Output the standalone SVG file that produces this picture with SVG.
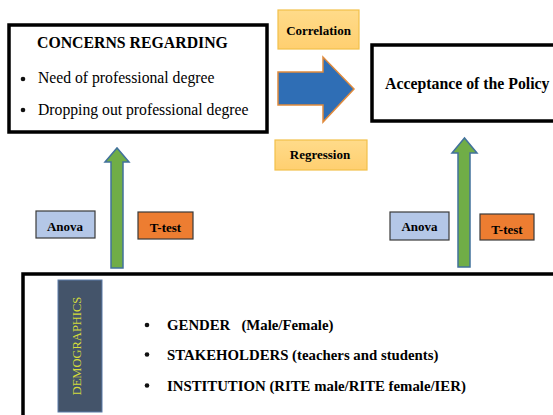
<svg xmlns="http://www.w3.org/2000/svg" width="553" height="415" viewBox="0 0 553 415" font-family="'Liberation Serif', 'Times New Roman', serif">
  <style>
    .frame { fill: #fff; stroke: #000; stroke-width: 3.5; }
    .tag { fill: url(#tagFill); stroke: #F2C04A; stroke-width: 1.2; }
    .anova { fill: #B4C7E7; stroke: #3A3A3A; stroke-width: 1.2; }
    .ttest { fill: #ED7D31; stroke: #3A3A3A; stroke-width: 1.2; }
    .up { fill: #70AD47; stroke: #41719C; stroke-width: 1.5; }
    .dot { fill: #111; }
  </style>
  <defs>
    <!-- soft vertical fill for the method tags -->
    <linearGradient id="tagFill" x1="0" y1="0" x2="0" y2="1">
      <stop offset="0" stop-color="#FFDB8A"/>
      <stop offset="1" stop-color="#FFCF70"/>
    </linearGradient>
  </defs>

  <!-- Concerns box -->
  <g id="concerns">
    <rect class="frame" x="9" y="25" width="258" height="107"/>
    <text x="37" y="47.5" font-family="'Liberation Serif', serif" font-size="15.8" font-weight="bold">CONCERNS REGARDING</text>
    <circle class="dot" cx="23" cy="79" r="2.3"/>
    <text x="38" y="83" font-family="'Liberation Serif', serif" font-size="15.7">Need of professional degree</text>
    <circle class="dot" cx="23" cy="110" r="2.3"/>
    <text x="38" y="115" font-family="'Liberation Serif', serif" font-size="15.7">Dropping out professional degree</text>
  </g>

  <!-- Acceptance box -->
  <g id="acceptance">
    <rect class="frame" x="372" y="45" width="200" height="76"/>
    <text x="385" y="89" font-family="'Liberation Serif', serif" font-size="15.8" font-weight="bold">Acceptance of the Policy</text>
  </g>

  <!-- Method labels -->
  <g id="correlation">
    <rect class="tag" x="278" y="10" width="81" height="39"/>
    <text x="318.5" y="35" font-family="'Liberation Serif', serif" font-size="13" font-weight="bold" text-anchor="middle">Correlation</text>
  </g>
  <g id="regression">
    <rect class="tag" x="275" y="140" width="92" height="30"/>
    <text x="320" y="158.5" font-family="'Liberation Serif', serif" font-size="13" font-weight="bold" text-anchor="middle">Regression</text>
  </g>
  <g id="anova-left">
    <rect class="anova" x="36" y="211" width="59" height="27"/>
    <text x="65" y="230.5" font-family="'Liberation Serif', serif" font-size="13" font-weight="bold" text-anchor="middle">Anova</text>
  </g>
  <g id="ttest-left">
    <rect class="ttest" x="138" y="212" width="55" height="27"/>
    <text x="165.5" y="231.5" font-family="'Liberation Serif', serif" font-size="13" font-weight="bold" text-anchor="middle">T-test</text>
  </g>
  <g id="anova-right">
    <rect class="anova" x="390" y="212" width="59" height="28"/>
    <text x="419.5" y="231" font-family="'Liberation Serif', serif" font-size="13" font-weight="bold" text-anchor="middle">Anova</text>
  </g>
  <g id="ttest-right">
    <rect class="ttest" x="480" y="214" width="54" height="26"/>
    <text x="507" y="234" font-family="'Liberation Serif', serif" font-size="13" font-weight="bold" text-anchor="middle">T-test</text>
  </g>

  <!-- Demographics box -->
  <g id="demographics">
    <rect class="frame" x="23" y="274" width="540" height="150"/>
    <rect x="58" y="280" width="44" height="132" fill="#44546A" stroke="#5B7BA8" stroke-width="1"/>
    <text x="0" y="0" font-family="'Liberation Serif', serif" font-size="12.5" fill="#D4DC3C" text-anchor="middle" transform="translate(80.5 346) rotate(-90)">DEMOGRAPHICS</text>
    <circle class="dot" cx="147" cy="325" r="2.3"/>
    <text x="167" y="330" font-family="'Liberation Serif', serif" font-size="14.8" font-weight="bold" xml:space="preserve">GENDER   (Male/Female)</text>
    <circle class="dot" cx="147" cy="354.5" r="2.3"/>
    <text x="167" y="359.5" font-family="'Liberation Serif', serif" font-size="14.8" font-weight="bold">STAKEHOLDERS (teachers and students)</text>
    <circle class="dot" cx="147" cy="385.5" r="2.3"/>
    <text x="167" y="390.5" font-family="'Liberation Serif', serif" font-size="14.8" font-weight="bold">INSTITUTION (RITE male/RITE female/IER)</text>
  </g>

  <!-- Connectors -->
  <g id="connectors">
    <polygon points="278,72 323,72 323,57 354,89 323,122 323,105 278,105" fill="#2F6EB5" stroke="#E08A3C" stroke-width="1.5"/>
    <polygon class="up" points="111,268 111,162 105,162 117,148 129,162 123,162 123,268"/>
    <polygon class="up" points="458,267 458,153 452,153 464.5,138 477,153 470,153 470,267"/>
  </g>
</svg>
